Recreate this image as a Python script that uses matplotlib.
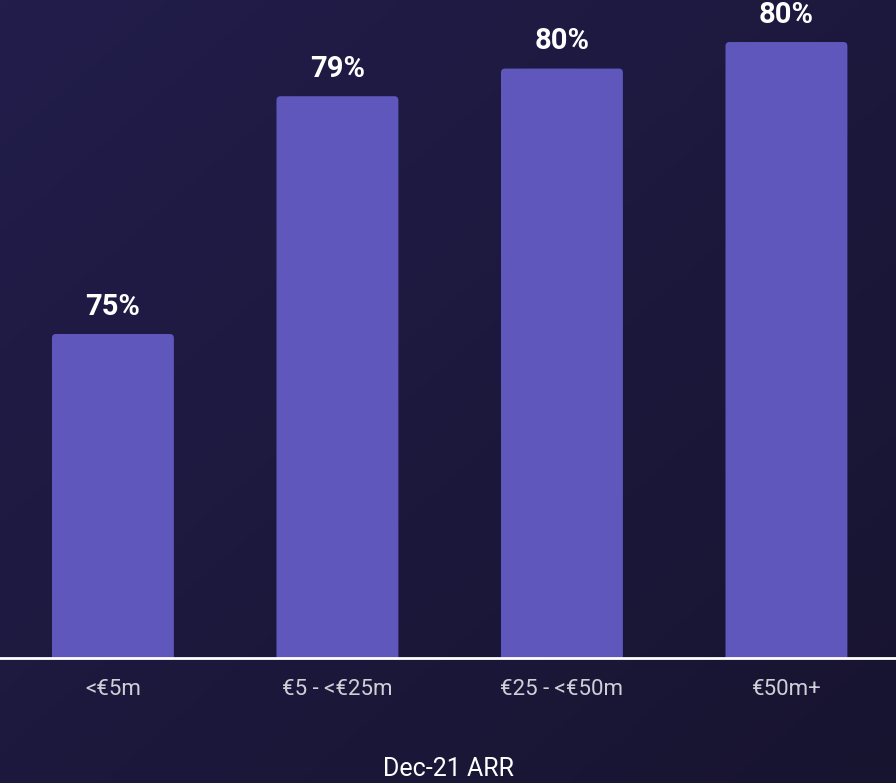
import numpy as np
import matplotlib.pyplot as plt
from matplotlib.patches import FancyBboxPatch

categories = ['<€5m', '€5 - <€25m', '€25 - <€50m', '€50m+']
values = [74.96, 79.26, 79.76, 80.24]
value_labels = ['75%', '79%', '80%', '80%']
x_title = 'Dec-21 ARR'

plt.rcParams['font.family'] = ['Roboto', 'DejaVu Sans']

fig = plt.figure(figsize=(8.96, 7.83), dpi=100)

# background gradient
bg = fig.add_axes([0, 0, 1, 1])
yy, xx = np.mgrid[0:1:200j, 0:1:200j]
t = (xx + yy) / 2
c0 = np.array([0x22, 0x1d, 0x4b]) / 255
c1 = np.array([0x17, 0x14, 0x30]) / 255
img = c0[None, None, :] * (1 - t[..., None]) + c1[None, None, :] * t[..., None]
bg.imshow(img, aspect='auto', extent=[0, 1, 0, 1], origin='upper')
bg.axis('off')

ax = fig.add_axes([0, 1 - 658 / 783, 1, 658 / 783])
ax.patch.set_alpha(0)
ymin, ymax = 69.1, 81.0
x = np.arange(len(categories))
bars = ax.bar(x, np.array(values) - 68, bottom=68, width=0.543, color='#5f57bb')

# swap in rounded rectangles
for b in bars:
    bx, by = b.get_x(), b.get_y()
    bw, bh = b.get_width(), b.get_height()
    b.set_visible(False)
    p = FancyBboxPatch((bx, by), bw, bh, boxstyle='round,pad=0,rounding_size=0.018',
                       mutation_aspect=4.06, fc='#5f57bb', ec='none')
    ax.add_patch(p)

for xi, v, lab in zip(x, values, value_labels):
    ax.annotate(lab, (xi, v), xytext=(0, 14), textcoords='offset points',
                ha='center', va='baseline', color='white', fontsize=21, fontweight='bold')

ax.set_xlim(-0.503, 3.488)
ax.set_ylim(ymin, ymax)
ax.axhline(ymin, color='white', lw=2, clip_on=False)
ax.set_yticks([])
ax.set_xticks(x)
ax.set_xticklabels(categories, color='#cfcfd8', fontsize=16)
ax.tick_params(axis='x', length=0, pad=15)
for s in ax.spines.values():
    s.set_visible(False)

fig.text(0.5, 1 - 769 / 783, x_title, ha='center', va='center', color='white', fontsize=18)

fig.savefig('out.png', dpi=100)
